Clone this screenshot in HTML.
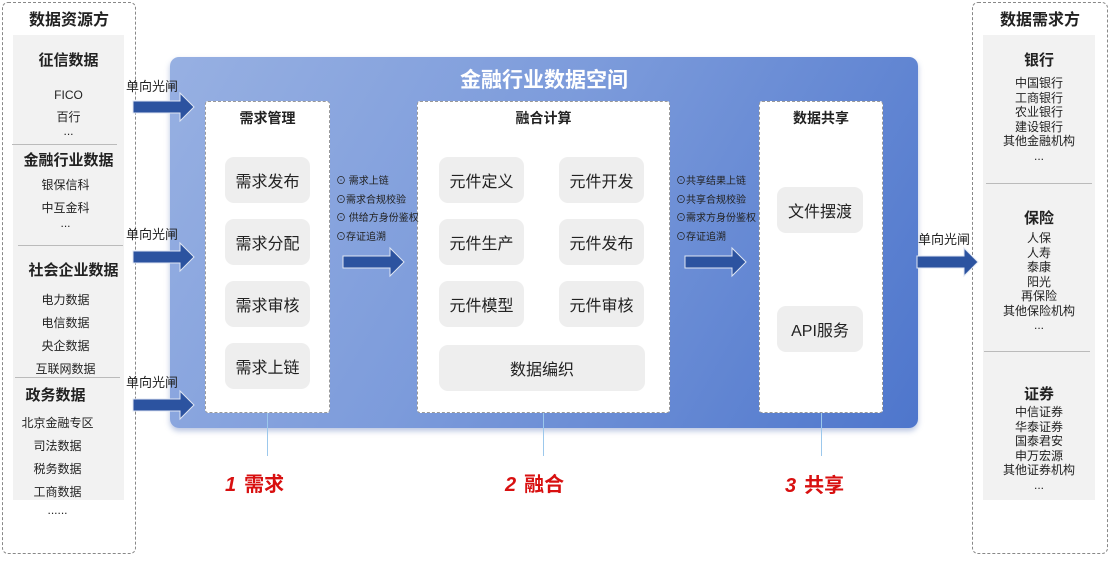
<!DOCTYPE html>
<html><head><meta charset="utf-8"><style>
*{margin:0;padding:0;box-sizing:border-box}
body{width:1112px;height:568px;background:#fff;position:relative;overflow:hidden;font-family:"Liberation Sans","Noto Sans CJK SC",sans-serif;color:#222}
.a{position:absolute}
.t{position:absolute;text-align:center;white-space:nowrap}
.dash{position:absolute;border:1.5px dashed #888;border-radius:6px}
.gray{position:absolute;background:#f2f2f2}
.hr{position:absolute;height:1px;background:#bbb}
.panel{position:absolute;background:#fff;border:1.5px dashed #999;border-radius:3px}
.btn{position:absolute;background:#eeeeee;border-radius:9px;display:flex;align-items:center;justify-content:center;font-size:16px;color:#222}
.h{font-weight:bold}
.s{font-size:12px;color:#222}
.red{position:absolute;color:#d81010;font-weight:bold;font-size:20px;white-space:nowrap}
.red i{font-style:italic;font-family:"Liberation Sans",sans-serif;margin-right:8px}
.vl{position:absolute;width:1px;background:#9cc8ec}
.bul{position:absolute;font-size:10px;color:#222;line-height:18.5px;white-space:nowrap}
</style></head><body>
<!-- left -->
<div class="dash" style="left:2px;top:2px;width:134px;height:552px"></div>
<div class="gray" style="left:13px;top:35px;width:111px;height:465px"></div>
<div class="t h" style="left:2px;width:134px;top:6px;font-size:16px">数据资源方</div>
<div class="t h" style="left:13px;width:111px;top:49px;font-size:15px">征信数据</div>
<div class="t s" style="left:13px;width:111px;top:88px">FICO</div>
<div class="t s" style="left:13px;width:111px;top:108px">百行</div>
<div class="t s" style="left:13px;width:111px;top:124px">...</div>
<div class="hr" style="left:12px;top:144px;width:105px"></div>
<div class="t h" style="left:13px;width:111px;top:149px;font-size:15px">金融行业数据</div>
<div class="t s" style="left:10px;width:111px;top:176px">银保信科</div>
<div class="t s" style="left:10px;width:111px;top:199px">中互金科</div>
<div class="t s" style="left:10px;width:111px;top:216px">...</div>
<div class="hr" style="left:18px;top:245px;width:105px"></div>
<div class="t h" style="left:18px;width:111px;top:259px;font-size:15px">社会企业数据</div>
<div class="t s" style="left:10px;width:111px;top:291px">电力数据</div>
<div class="t s" style="left:10px;width:111px;top:314px">电信数据</div>
<div class="t s" style="left:10px;width:111px;top:337px">央企数据</div>
<div class="t s" style="left:10px;width:111px;top:360px">互联网数据</div>
<div class="hr" style="left:15px;top:377px;width:105px"></div>
<div class="t h" style="left:0px;width:111px;top:384px;font-size:15px">政务数据</div>
<div class="t s" style="left:2px;width:111px;top:414px">北京金融专区</div>
<div class="t s" style="left:2px;width:111px;top:437px">司法数据</div>
<div class="t s" style="left:2px;width:111px;top:460px">税务数据</div>
<div class="t s" style="left:2px;width:111px;top:483px">工商数据</div>
<div class="t s" style="left:2px;width:111px;top:503px">......</div>
<!-- right -->
<div class="dash" style="left:972px;top:2px;width:136px;height:552px"></div>
<div class="gray" style="left:983px;top:35px;width:112px;height:465px"></div>
<div class="t h" style="left:972px;width:136px;top:6px;font-size:16px">数据需求方</div>
<div class="t h" style="left:983px;width:112px;top:49px;font-size:15px">银行</div>
<div class="t s" style="left:983px;width:112px;top:76px;line-height:14.5px">中国银行<br>工商银行<br>农业银行<br>建设银行<br>其他金融机构<br>...</div>
<div class="hr" style="left:986px;top:183px;width:106px"></div>
<div class="t h" style="left:983px;width:112px;top:207px;font-size:15px">保险</div>
<div class="t s" style="left:983px;width:112px;top:231px;line-height:14.5px">人保<br>人寿<br>泰康<br>阳光<br>再保险<br>其他保险机构<br>...</div>
<div class="hr" style="left:984px;top:351px;width:106px"></div>
<div class="t h" style="left:983px;width:112px;top:383px;font-size:15px">证券</div>
<div class="t s" style="left:983px;width:112px;top:405px;line-height:14.5px">中信证券<br>华泰证券<br>国泰君安<br>申万宏源<br>其他证券机构<br>...</div>
<!-- main -->
<div class="a" style="left:170px;top:57px;width:748px;height:371px;border-radius:9px;background:linear-gradient(120deg,#97b0e2 0%,#7c9bdb 45%,#4e76cc 100%);box-shadow:0 3px 6px rgba(80,110,180,.4)"></div>
<div class="t h" style="left:170px;width:748px;top:64px;font-size:21px;color:#fff">金融行业数据空间</div>
<div class="panel" style="left:205px;top:101px;width:125px;height:312px"></div>
<div class="t h" style="left:205px;width:125px;top:108px;font-size:14px">需求管理</div>
<div class="btn" style="left:225px;top:157px;width:85px;height:46px">需求发布</div>
<div class="btn" style="left:225px;top:219px;width:85px;height:46px">需求分配</div>
<div class="btn" style="left:225px;top:281px;width:85px;height:46px">需求审核</div>
<div class="btn" style="left:225px;top:343px;width:85px;height:46px">需求上链</div>
<div class="panel" style="left:417px;top:101px;width:253px;height:312px"></div>
<div class="t h" style="left:417px;width:253px;top:108px;font-size:14px">融合计算</div>
<div class="btn" style="left:439px;top:157px;width:85px;height:46px">元件定义</div>
<div class="btn" style="left:559px;top:157px;width:85px;height:46px">元件开发</div>
<div class="btn" style="left:439px;top:219px;width:85px;height:46px">元件生产</div>
<div class="btn" style="left:559px;top:219px;width:85px;height:46px">元件发布</div>
<div class="btn" style="left:439px;top:281px;width:85px;height:46px">元件模型</div>
<div class="btn" style="left:559px;top:281px;width:85px;height:46px">元件审核</div>
<div class="btn" style="left:439px;top:345px;width:206px;height:46px">数据编织</div>
<div class="panel" style="left:759px;top:101px;width:124px;height:312px"></div>
<div class="t h" style="left:759px;width:124px;top:108px;font-size:14px">数据共享</div>
<div class="btn" style="left:777px;top:187px;width:86px;height:46px">文件摆渡</div>
<div class="btn" style="left:777px;top:306px;width:86px;height:46px">API服务</div>
<div class="bul" style="left:336px;top:173px">⊙ 需求上链<br>⊙需求合规校验<br>⊙ 供给方身份鉴权<br>⊙存证追溯</div>
<div class="bul" style="left:676px;top:173px">⊙共享结果上链<br>⊙共享合规校验<br>⊙需求方身份鉴权<br>⊙存证追溯</div>
<!-- arrows -->
<svg class="a" style="left:0;top:0" width="1112" height="568">
<defs><g id="ar"><path d="M0,-6 L47,-6 L47,-14 L61,0 L47,14 L47,6 L0,6 Z" fill="#2c53a0" stroke="#dfe6f3" stroke-width="1"/></g></defs>
<use href="#ar" x="133" y="107"/><use href="#ar" x="133" y="257"/><use href="#ar" x="133" y="405"/>
<use href="#ar" x="343" y="262"/><use href="#ar" x="685" y="262"/><use href="#ar" x="917" y="262"/>
</svg>
<div class="t" style="left:126px;top:76px;font-size:13px">单向光闸</div>
<div class="t" style="left:126px;top:224px;font-size:13px">单向光闸</div>
<div class="t" style="left:126px;top:372px;font-size:13px">单向光闸</div>
<div class="t" style="left:918px;top:229px;font-size:13px">单向光闸</div>
<div class="vl" style="left:267px;top:413px;height:43px"></div>
<div class="vl" style="left:543px;top:413px;height:43px"></div>
<div class="vl" style="left:821px;top:413px;height:43px"></div>
<div class="red" style="left:225px;top:468px"><i>1</i>需求</div>
<div class="red" style="left:505px;top:468px"><i>2</i>融合</div>
<div class="red" style="left:785px;top:469px"><i>3</i>共享</div>
</body></html>
